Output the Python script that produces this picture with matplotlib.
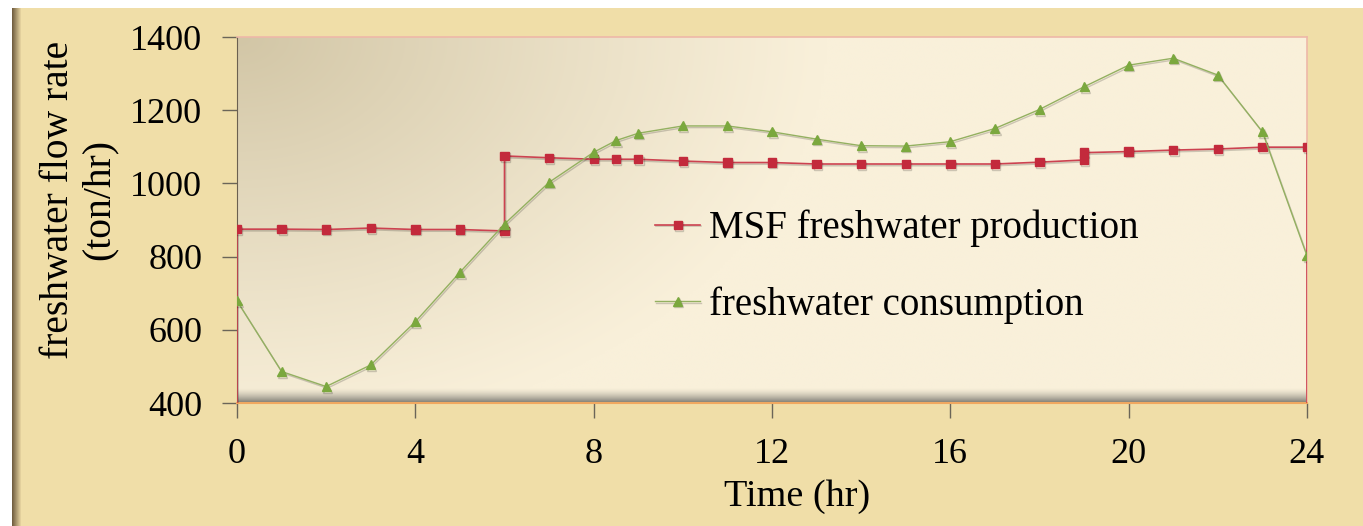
import numpy as np
import matplotlib
matplotlib.use('Agg')
import matplotlib.pyplot as plt
import matplotlib.patheffects as pe

# hourly MSF production (step changes at 6 h and 19 h)
prod_t = [0, 0, 1, 2, 3, 4, 5, 6, 6, 7, 8, 8.5, 9, 10, 11, 12, 13, 14, 15, 16,
          17, 18, 19, 19, 20, 21, 22, 23, 24, 24]
prod_q = [0, 875, 875, 874, 878, 874, 874, 870, 1075, 1070, 1066, 1066, 1066,
          1061, 1057, 1057, 1053, 1053, 1053, 1053, 1053, 1058, 1064, 1084,
          1087, 1091, 1094, 1099, 1099, 0]

# hourly freshwater demand
cons_t = [0, 1, 2, 3, 4, 5, 6, 7, 8, 8.5, 9, 10, 11, 12, 13, 14, 15, 16, 17,
          18, 19, 20, 21, 22, 23, 24]
cons_q = [679, 486, 445, 504, 622, 757, 889, 1003, 1085, 1117, 1137, 1157,
          1157, 1141, 1121, 1103, 1102, 1114, 1150, 1202, 1264, 1323, 1342,
          1296, 1141, 802]

xticks = [0, 4, 8, 12, 16, 20, 24]
yticks = [400, 600, 800, 1000, 1200, 1400]

plt.rcParams['font.family'] = ['Liberation Serif', 'DejaVu Serif']

W, H = 1363, 526
fig = plt.figure(figsize=(W / 100, H / 100), dpi=100, facecolor='white')

# parchment backdrop
bg = fig.add_axes([0, 0, 1, 1], zorder=-10)
bg.set_axis_off()
bx = np.arange(W)[None, :]
by = np.arange(H)[:, None]
paper = np.array([240, 222, 168]) / 255.0
img = np.ones((H, W, 3)) * paper
edge = np.clip((bx - 12) / 9.0, 0, 1)[..., None]
dark = np.array([115, 95, 65]) / 255.0
img = img * edge + dark * (1 - edge)
img[:, :12] = 1.0
img[:8, :] = 1.0
bg.imshow(img, extent=[0, 1, 0, 1], aspect='auto', interpolation='bilinear')

ax = fig.add_axes([237 / W, (H - 403) / H, 1070 / W, 366 / H])

# plot area shading: khaki top-left fading to cream, grey floor at the bottom
u = np.linspace(0, 1, 400)[None, :]
v = np.linspace(1, 0, 300)[:, None]
d = np.clip(1 - np.sqrt((u / 0.55) ** 2 + ((1 - v) / 1.1) ** 2), 0, 1) ** 1.1
light = np.array([249, 240, 218]) / 255.0
dull = np.array([210, 198, 166]) / 255.0
area = light * (1 - d[..., None]) + dull * d[..., None]
floor = np.clip((0.04 - v) / 0.04, 0, 1) ** 1.5
grey = np.array([128, 126, 118]) / 255.0
area = area * (1 - floor[..., None]) + grey * floor[..., None]
ax.imshow(area, extent=[0, 1, 0, 1], transform=ax.transAxes, aspect='auto',
          zorder=0, interpolation='bilinear')

shadow = [pe.SimpleLineShadow(offset=(0.8, -1.2), alpha=0.18), pe.Normal()]
ax.plot(prod_t, prod_q, color='#cc4250', lw=1.2, marker='s', ms=6,
        mfc='#c32a3c', mec='#c32a3c', label='MSF freshwater production',
        zorder=3, path_effects=shadow)
ax.plot(cons_t, cons_q, color='#93b060', lw=1.0, marker='^', ms=6.5,
        mfc='#7ba83e', mec='#7ba83e', label='freshwater consumption',
        zorder=4, path_effects=shadow)

ax.set_xlim(0, 24)
ax.set_ylim(400, 1400)
ax.set_xticks(xticks)
ax.set_yticks(yticks)
ax.tick_params(labelsize=26, length=11, width=1, color='#6b6558', pad=14)
ax.spines['left'].set_color('#6b6050')
ax.spines['bottom'].set_color('#f0a860')
ax.spines['bottom'].set_linewidth(1.5)
for s in ['top', 'right']:
    ax.spines[s].set_color('#eeb8a8')
    ax.spines[s].set_linewidth(1.2)

ax.set_xlabel('Time (hr)', fontsize=27.5, va='center')
ax.xaxis.set_label_coords(0.523, -0.257)
ax.set_ylabel('freshwater flow rate\n(ton/hr)', fontsize=28.5, va='center',
              linespacing=1.15)
ax.yaxis.set_label_coords(-0.148, 0.555)

ax.legend(loc='upper left', bbox_to_anchor=(0.391, 0.528), frameon=False,
          fontsize=28, handlelength=1.15, handletextpad=0.22, borderpad=0,
          borderaxespad=0, labelspacing=1.0)

fig.savefig('out.png', dpi=100, facecolor=fig.get_facecolor())
